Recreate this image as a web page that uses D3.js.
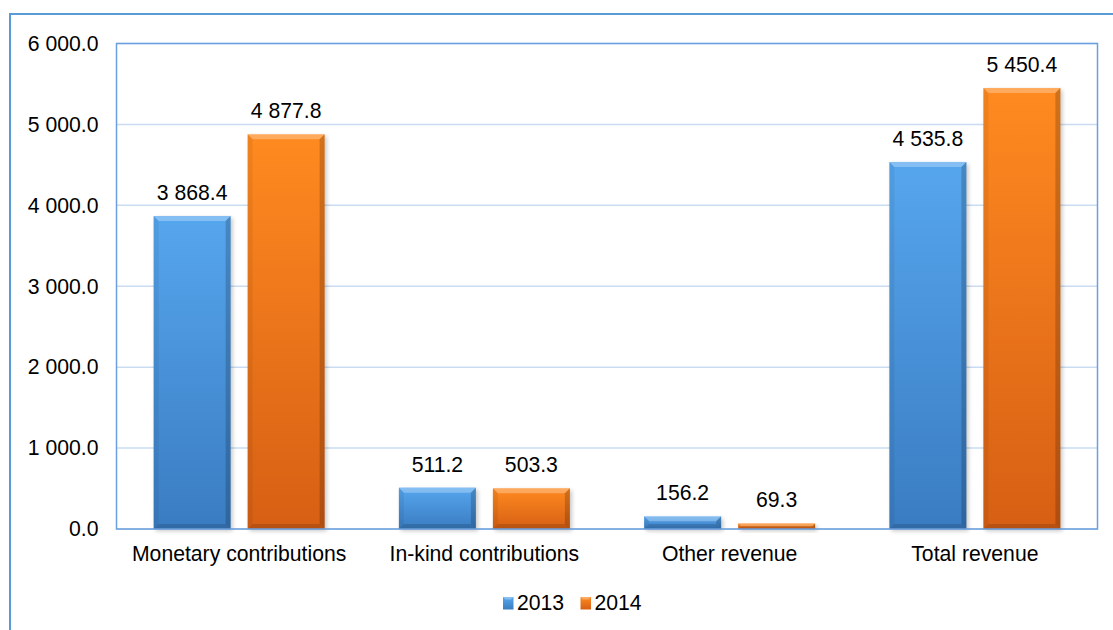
<!DOCTYPE html>
<html>
<head>
<meta charset="utf-8">
<script src="https://cdn.jsdelivr.net/npm/d3@7"></script>
<style>
  html, body { margin: 0; padding: 0; background: #ffffff; }
  svg { display: block; font-family: "Liberation Sans", Arial, sans-serif; }
</style>
</head>
<body>
<svg id="chart" width="1113" height="630"></svg>
<script>
// Revenue by source, 2013 vs 2014
const categories = ["Monetary contributions", "In-kind contributions", "Other revenue", "Total revenue"];
const seriesNames = ["2013", "2014"];
const values2013 = [3868.4, 511.2, 156.2, 4535.8];
const values2014 = [4877.8, 503.3, 69.3, 5450.4];
const yTicks = [0, 1000, 2000, 3000, 4000, 5000, 6000];

const seriesValues = [values2013, values2014];
const palette = {
  "2013": { top: "#56a6ee", bottom: "#3a7cc1" },
  "2014": { top: "#ff8a20", bottom: "#d65f14" }
};

const W = 1113, H = 630;
const FS = 21.2;
const margin = { left: 116.5, top: 43.5, right: 15.5, bottom: 101 };
const plotW = W - margin.left - margin.right;
const plotH = H - margin.top - margin.bottom;

const svg = d3.select("#chart");
const defs = svg.append("defs");

seriesNames.forEach((s, i) => {
  const g = defs.append("linearGradient")
    .attr("id", "grad" + i).attr("x1", 0).attr("y1", 0).attr("x2", 0).attr("y2", 1);
  g.append("stop").attr("offset", "0%").attr("stop-color", palette[s].top);
  g.append("stop").attr("offset", "100%").attr("stop-color", palette[s].bottom);
});
const blur = defs.append("filter").attr("id", "shadow")
  .attr("x", "-20%").attr("y", "-20%").attr("width", "140%").attr("height", "140%");
blur.append("feGaussianBlur").attr("stdDeviation", 2.2);

// outer frame
svg.append("rect")
  .attr("x", 10).attr("y", 14).attr("width", W + 20).attr("height", H + 20)
  .attr("fill", "none").attr("stroke", "#5b9bd5").attr("stroke-width", 2);

const root = svg.append("g").attr("transform", `translate(${margin.left},${margin.top})`);

const x0 = d3.scaleBand().domain(categories).range([0, plotW]).padding(0);
const x1 = d3.scaleBand().domain(seriesNames).range([0, x0.bandwidth()])
  .paddingInner(0.181).paddingOuter(0.395);
const y = d3.scaleLinear().domain([0, 6000]).range([plotH, 0]);

const fmt = v => d3.format(",.1f")(v).replace(/,/g, " ");

// gridlines
root.append("g")
  .selectAll("line").data(yTicks).join("line")
  .attr("x1", 0).attr("x2", plotW)
  .attr("y1", d => y(d)).attr("y2", d => y(d))
  .attr("stroke", "#c9dcf2").attr("stroke-width", 1.5);

// y axis labels
const yAxis = d3.axisLeft(y).tickValues(yTicks).tickSize(0).tickPadding(18).tickFormat(fmt);
const ya = root.append("g").call(yAxis);
ya.select(".domain").remove();
ya.selectAll("text").attr("font-size", FS).attr("fill", "#000")
  .attr("font-family", "'Liberation Sans', Arial, sans-serif");

// x axis labels
const xAxis = d3.axisBottom(x0).tickSize(0).tickPadding(17);
const xa = root.append("g").attr("transform", `translate(0,${plotH})`).call(xAxis);
xa.select(".domain").remove();
xa.selectAll("text").attr("font-size", FS).attr("fill", "#000")
  .attr("font-family", "'Liberation Sans', Arial, sans-serif");

// bars
const barData = [];
categories.forEach((c, ci) => {
  seriesNames.forEach((s, si) => {
    barData.push({ cat: c, series: s, si, value: seriesValues[si][ci] });
  });
});

const bars = root.append("g").selectAll("g.bar").data(barData).join("g").attr("class", "bar")
  .attr("transform", d => `translate(${x0(d.cat) + x1(d.series)},0)`);

bars.each(function (d) {
  const g = d3.select(this);
  const w = x1.bandwidth();
  const top = y(d.value);
  const h = y(0) - top;
  const b = Math.min(5, h / 2);
  // soft shadow
  g.append("rect").attr("x", 2).attr("y", top + 2).attr("width", w).attr("height", h)
    .attr("fill", "#000").attr("opacity", 0.22).attr("filter", "url(#shadow)");
  g.append("rect").attr("x", 0).attr("y", top).attr("width", w).attr("height", h)
    .attr("fill", `url(#grad${d.si})`);
  const poly = (pts, fill, op) => g.append("polygon")
    .attr("points", pts.map(p => p.join(",")).join(" "))
    .attr("fill", fill).attr("opacity", op);
  // bevel facets
  poly([[0, top], [w, top], [w - b, top + b], [b, top + b]], "#ffffff", 0.28);
  poly([[0, top], [b, top + b], [b, top + h - b], [0, top + h]], "#000000", 0.06);
  poly([[w, top], [w - b, top + b], [w - b, top + h - b], [w, top + h]], "#000000", 0.18);
  poly([[0, top + h], [b, top + h - b], [w - b, top + h - b], [w, top + h]], "#000000", 0.14);
  // value label
  g.append("text").attr("x", w / 2).attr("y", top - 16)
    .attr("text-anchor", "middle").attr("font-size", FS).attr("fill", "#000")
    .text(fmt(d.value));
});

// plot frame
root.append("rect").attr("x", 0).attr("y", 0).attr("width", plotW).attr("height", plotH)
  .attr("fill", "none").attr("stroke", "#6b9fdd").attr("stroke-width", 1.5);

// legend
const legend = svg.append("g").attr("transform", "translate(503,610)");
const legendItems = legend.selectAll("g").data(seriesNames).join("g")
  .attr("transform", (d, i) => `translate(${i * 77.5},0)`);
legendItems.append("rect").attr("x", 0).attr("y", -13).attr("width", 10.5).attr("height", 12.5)
  .attr("fill", (d, i) => `url(#grad${i})`);
legendItems.append("polygon")
  .attr("points", "0,-13 10.5,-13 8,-10.5 2.5,-10.5").attr("fill", "#fff").attr("opacity", 0.3);
legendItems.append("text").attr("x", 14).attr("y", 0)
  .attr("font-size", FS).attr("fill", "#000").text(d => d);
</script>
</body>
</html>
